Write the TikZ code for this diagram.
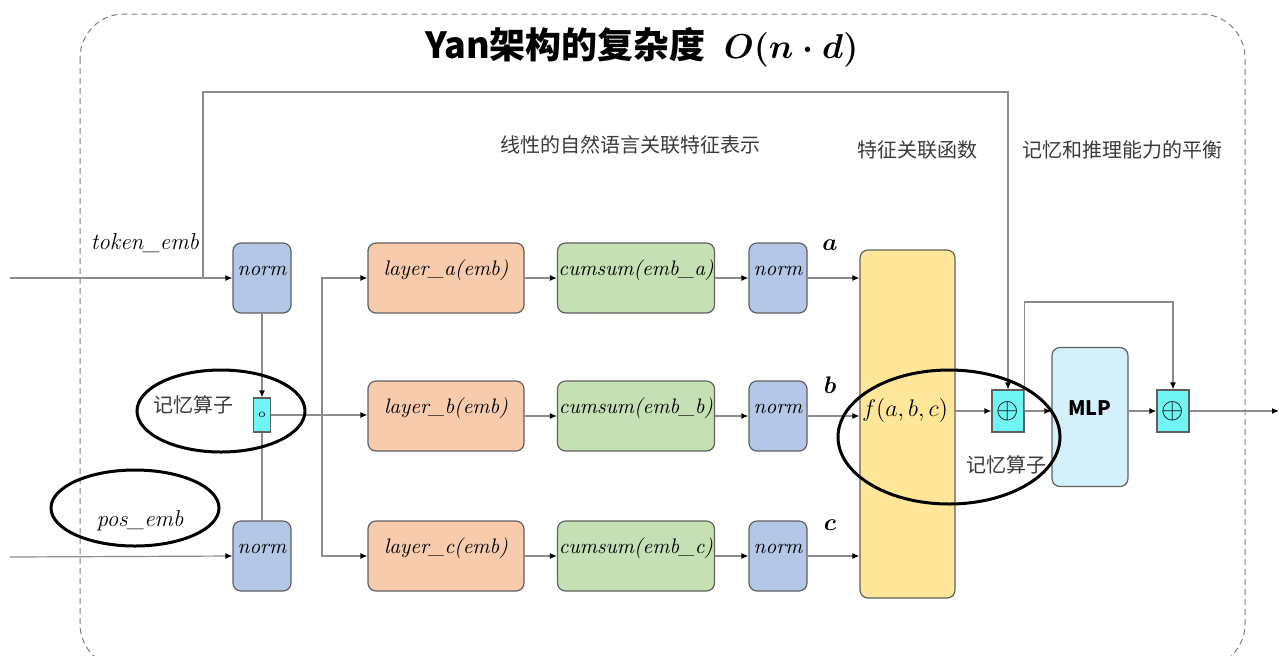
\documentclass[tikz,border=0pt]{standalone}
\usepackage{fontspec}
\usepackage{amsmath,bm}
\usepackage{xcolor}
\usetikzlibrary{arrows.meta}
\newfontfamily\cjk{Noto Sans CJK SC}
\definecolor{normblue}{HTML}{B4C7E7}
\definecolor{layerorange}{HTML}{F8CBAD}
\definecolor{cumgreen}{HTML}{C5E0B4}
\definecolor{fyellow}{HTML}{FFE699}
\definecolor{mlpcyan}{HTML}{D3F1FA}
\definecolor{addcyan}{HTML}{70F5F5}
\definecolor{boxline}{HTML}{5F5F5F}
\definecolor{wire}{HTML}{8C8C8C}
\definecolor{txt}{HTML}{3A3A3A}
\newcommand{\bigO}{\mbox{\boldmath$O(n\cdot d)$}}

\begin{document}
\begin{tikzpicture}[x=0.5pt,y=-0.5pt]
      \useasboundingbox (0,0) rectangle (1279,655);
      \tikzset{B/.style = {draw=boxline, line width=0.6pt, rounded corners=4pt, inner xsep=0pt, inner ysep=3.5pt,
          text height=12.5pt, text depth=15.5pt, text=black, font=\fontsize{10.5}{12}\selectfont\itshape}}
      \tikzset{N/.style = {B, fill=normblue, minimum width=29pt}}
      \tikzset{L/.style = {B, fill=layerorange, minimum width=78pt}}
      \tikzset{C/.style = {B, fill=cumgreen, minimum width=78.5pt}}
      \tikzset{P/.style = {draw=boxline, line width=0.6pt, fill=addcyan, minimum width=16pt, minimum height=21pt, inner sep=0pt}}
      \tikzset{E/.style = {draw=wire, line width=0.6pt, -{Latex[length=3.5pt,width=3pt,color=black]}}}
      \tikzset{W/.style = {draw=wire, line width=0.6pt}}
      \tikzset{T/.style = {text=txt, font=\cjk\fontsize{10}{12}\selectfont}}
      \tikzset{I/.style = {text=black, font=\fontsize{11.5}{13}\selectfont\itshape}}
      % frame and title
      \draw[boxline!80, densely dashed, line width=0.5pt, rounded corners=22pt] (80,14) rectangle (1245,668);
      \node (title) at (642,47) {\cjk\bfseries\fontsize{18}{21}\selectfont Yan架构的复杂度\enspace\bigO};
      \node[T](t1) at (630,145) {线性的自然语言关联特征表示};
      \node[T](t2) at (917,150) {特征关联函数};
      \node[T](t3) at (1122,150) {记忆和推理能力的平衡};
      % inputs
      \coordinate (tin) at (10,278);
      \coordinate (pin) at (10,557);
      \coordinate (tap) at (203,278);
      \coordinate (topl) at (203,92);
      \coordinate (split) at (322,416);
      \coordinate (out) at (1279,411);
      \node[I](tok) at (145,243) {token\_emb};
      \node[I](pos) at (140,521) {pos\_emb};
      \node[N](tn) at (262,278) {norm};
      \node[N](pn) at (262,556) {norm};
      \node[P,fill=addcyan,minimum width=8.5pt,minimum height=17pt](mem) at (262,415) {\fontsize{6}{6}\selectfont o};
      \node[T](memtxt) at (193,405) {记忆算子};
      % three branches
      \node[L](la) at (446,278) {layer\_a(emb)};
      \node[L](lb) at (446,416) {layer\_b(emb)};
      \node[L](lc) at (446,556) {layer\_c(emb)};
      \node[C](ca) at (636,278) {cumsum(emb\_a)};
      \node[C](cb) at (636,416) {cumsum(emb\_b)};
      \node[C](cc) at (636,556) {cumsum(emb\_c)};
      \node[N](na) at (778,278) {norm};
      \node[N](nb) at (778,416) {norm};
      \node[N](nc) at (778,556) {norm};
      \node[I](va) at (830,245) {$\bm{a}$};
      \node[I](vb) at (830,385) {$\bm{b}$};
      \node[I](vc) at (830,525) {$\bm{c}$};
      % feature function, adds, MLP
      \node[draw=boxline,line width=0.6pt,fill=fyellow,rounded corners=4pt,minimum width=47.5pt,minimum height=174pt](fb) at (907.5,424) {};
      \node[I](ftxt) at (905,410) {$f(a,b,c)$};
      \node[T](memtxt2) at (1006,465) {记忆算子};
      \node[P](p1) at (1008,411) {\Large$\oplus$};
      \node[draw=boxline,line width=0.6pt,fill=mlpcyan,rounded corners=4pt,minimum width=38pt,minimum height=69.5pt](mlp) at (1090,417) {};
      \node(mlptxt) at (1090,408) {\cjk\bfseries\fontsize{10}{12}\selectfont MLP};
      \node[P](p2) at (1173,411) {\Large$\oplus$};
      % connectors
      \draw[E](tin) to (tn.west);
      \draw[E](pin) to (pn.west);
      \draw[E](tap) -- (topl) -| (p1.north);
      \draw[E](tn.south) to (mem.north);
      \draw[W](pn.north) to (mem.south);
      \draw[E](mem.east) to (mem.east -| lb.west);
      \draw[E](split) |- (la.west);
      \draw[E](split) |- (lc.west);
      \draw[E](la) to (ca);
      \draw[E](lb) to (cb);
      \draw[E](lc) to (cc);
      \draw[E](ca) to (na);
      \draw[E](cb) to (nb);
      \draw[E](cc) to (nc);
      \draw[E](na.east) to (na.east -| fb.west);
      \draw[E](nb.east) to (nb.east -| fb.west);
      \draw[E](nc.east) to (nc.east -| fb.west);
      \draw[E](fb.east |- p1.west) to (p1.west);
      \draw[E](p1.east) to (p1.east -| mlp.west);
      \draw[E](p1.east) -- ++(0,-109) -| (p2.north);
      \draw[E](mlp.east |- p2.west) to (p2.west);
      \draw[E](p2.east) to (out);
      % highlight rings
      \draw[line width=1.5pt] (135,508) ellipse [x radius=84, y radius=38];
      \draw[line width=1.5pt] (221,411) ellipse [x radius=84, y radius=41];
      \draw[line width=1.5pt] (949,437) ellipse [x radius=111, y radius=67];
    \end{tikzpicture}
\end{document}
